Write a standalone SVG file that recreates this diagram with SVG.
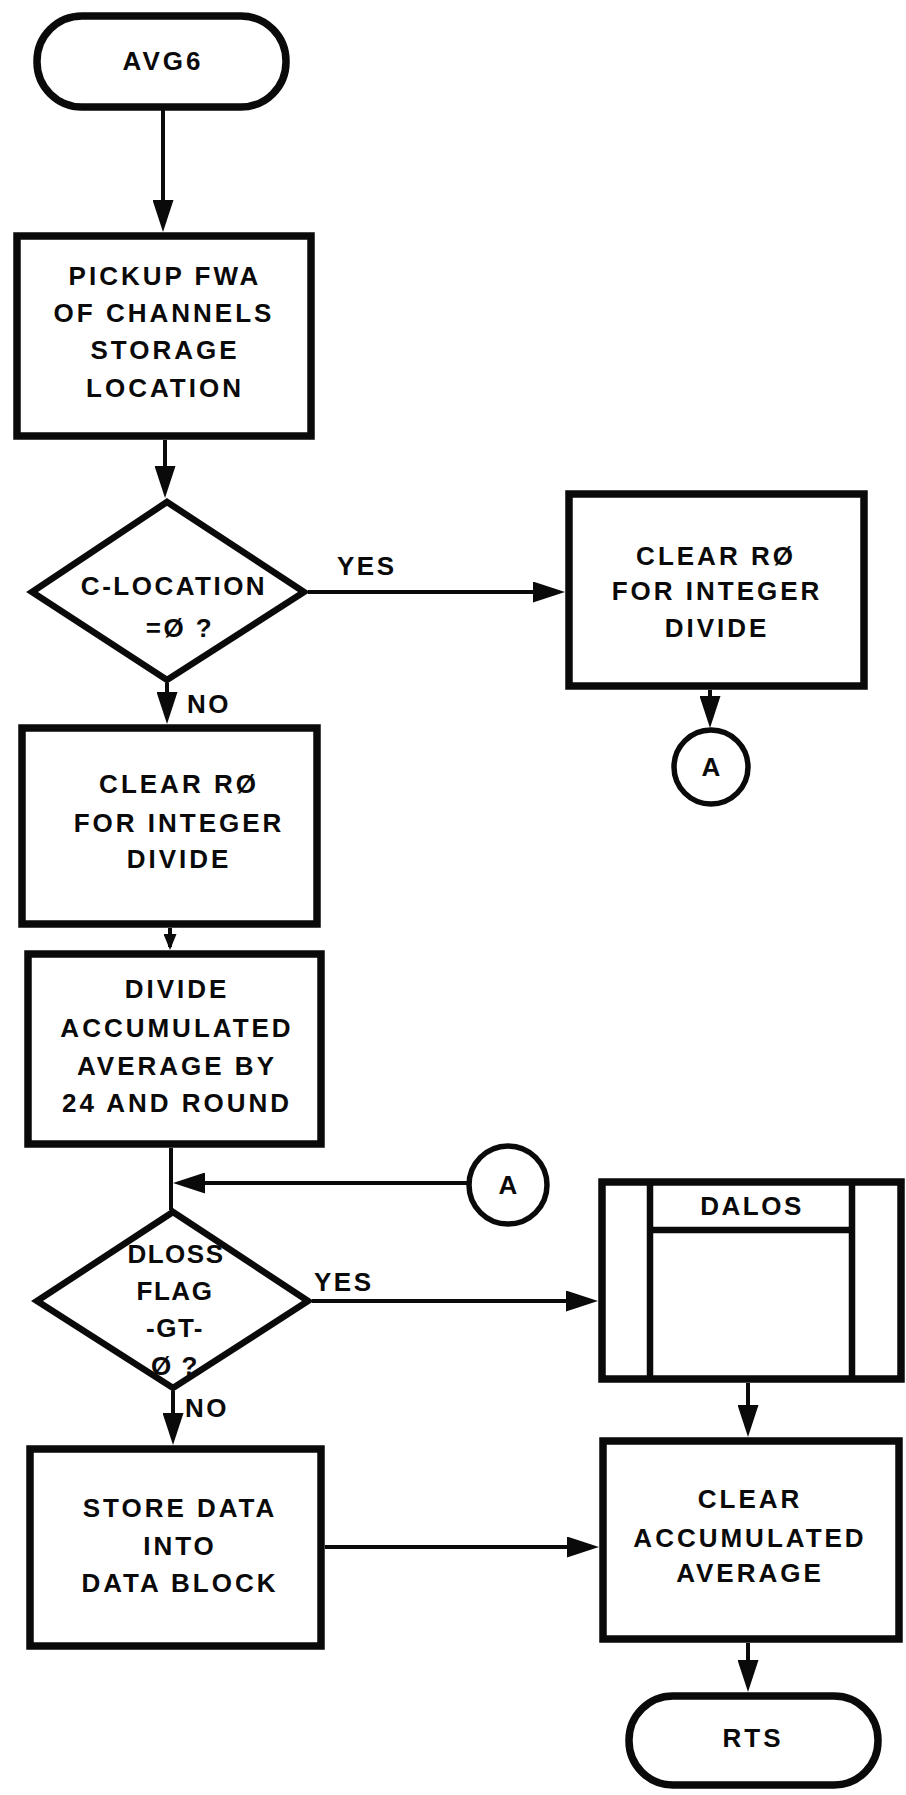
<svg xmlns="http://www.w3.org/2000/svg" width="906" height="1795" viewBox="0 0 906 1795">
<style>
.shape{fill:#fff;stroke:#0a0a0a;stroke-width:7.5;stroke-linejoin:miter}
.dia{fill:#fff;stroke:#0a0a0a;stroke-width:6.5;stroke-linejoin:miter}
.circ{fill:#fff;stroke:#0a0a0a;stroke-width:5.5}
.inner{fill:none;stroke:#0a0a0a;stroke-width:6.5}
.conn{fill:none;stroke:#0a0a0a;stroke-width:4}
text{font-family:"Liberation Sans",Arial,sans-serif;font-weight:bold;font-size:26px;fill:#0a0a0a;text-anchor:middle}
.t{letter-spacing:3px}
.d1{letter-spacing:2.5px}
.d2{letter-spacing:1.5px}
.lbl{letter-spacing:2.5px;text-anchor:start}
</style>
<defs>
<marker id="arr" markerUnits="userSpaceOnUse" markerWidth="32" markerHeight="21" refX="26" refY="10.5" orient="auto">
<path d="M0,0 L32,10.5 L0,21 Z" fill="#0a0a0a"/>
</marker>
<marker id="arrs" markerUnits="userSpaceOnUse" markerWidth="16" markerHeight="13" refX="13" refY="6.5" orient="auto">
<path d="M0,0 L16,6.5 L0,13 Z" fill="#0a0a0a"/>
</marker>
</defs>
<rect width="906" height="1795" fill="#fff"/>

<g id="connectors">
<path class="conn" d="M163,110 V226" marker-end="url(#arr)"/>
<path class="conn" d="M165,440 V492" marker-end="url(#arr)"/>
<path class="conn" d="M308,592 H559" marker-end="url(#arr)"/>
<path class="conn" d="M710,690 V722" marker-end="url(#arr)"/>
<path class="conn" d="M167,683 V718" marker-end="url(#arr)"/>
<path class="conn" d="M170,928 V947" marker-end="url(#arrs)"/>
<path class="conn" d="M171,1148 V1210"/>
<path class="conn" d="M468,1183 H179" marker-end="url(#arr)"/>
<path class="conn" d="M312,1301 H592" marker-end="url(#arr)"/>
<path class="conn" d="M173,1391 V1439" marker-end="url(#arr)"/>
<path class="conn" d="M748,1383 V1431" marker-end="url(#arr)"/>
<path class="conn" d="M325,1547 H593" marker-end="url(#arr)"/>
<path class="conn" d="M748,1643 V1686" marker-end="url(#arr)"/>
</g>

<g id="start">
<rect class="shape" x="37" y="16" width="249" height="91" rx="45"/>
<text class="t" x="163" y="70">AVG6</text>
</g>

<g id="pickup">
<rect class="shape" x="17" y="236" width="294" height="200"/>
<text class="t" x="165" y="285">PICKUP FWA</text>
<text class="t" x="164" y="322">OF CHANNELS</text>
<text class="t" x="165" y="359">STORAGE</text>
<text class="t" x="165" y="397">LOCATION</text>
</g>

<g id="decision1">
<polygon class="dia" points="167,502 304,592 167,680 32,592"/>
<text class="d1" x="174" y="595">C-LOCATION</text>
<text class="d1" x="180" y="637">=Ø ?</text>
</g>

<g id="clear-yes">
<rect class="shape" x="569" y="494" width="295" height="192"/>
<text class="t" x="716" y="565">CLEAR RØ</text>
<text class="t" x="717" y="600">FOR INTEGER</text>
<text class="t" x="717" y="637">DIVIDE</text>
</g>

<g id="connector-a-out">
<circle class="circ" cx="711" cy="767" r="37"/>
<text x="711" y="776">A</text>
</g>

<g id="clear-no">
<rect class="shape" x="22" y="728" width="295" height="196"/>
<text class="t" x="179" y="793">CLEAR RØ</text>
<text class="t" x="179" y="832">FOR INTEGER</text>
<text class="t" x="179" y="868">DIVIDE</text>
</g>

<g id="divide">
<rect class="shape" x="28" y="954" width="293" height="190"/>
<text class="t" x="177" y="998">DIVIDE</text>
<text class="t" x="177" y="1037">ACCUMULATED</text>
<text class="t" x="177" y="1075">AVERAGE BY</text>
<text class="t" x="177" y="1112">24 AND ROUND</text>
</g>

<g id="connector-a-in">
<circle class="circ" cx="508" cy="1185" r="39"/>
<text x="508" y="1194">A</text>
</g>

<g id="decision2">
<polygon class="dia" points="173,1212 308,1301 173,1388 37,1301"/>
<text class="d2" x="176" y="1263">DLOSS</text>
<text class="d2" x="175" y="1300">FLAG</text>
<text class="d2" x="175" y="1337">-GT-</text>
<text class="d2" x="175" y="1375">Ø ?</text>
</g>

<g id="dalos">
<rect class="shape" x="602" y="1182" width="299" height="197"/>
<line class="inner" x1="650" y1="1182" x2="650" y2="1379"/>
<line class="inner" x1="852" y1="1182" x2="852" y2="1379"/>
<line class="inner" x1="650" y1="1230" x2="852" y2="1230"/>
<text x="752" y="1215" style="letter-spacing:2.5px">DALOS</text>
</g>

<g id="store">
<rect class="shape" x="30" y="1449" width="291" height="197"/>
<text class="t" x="180" y="1517">STORE DATA</text>
<text class="t" x="180" y="1555">INTO</text>
<text class="t" x="180" y="1592">DATA BLOCK</text>
</g>

<g id="clear-avg">
<rect class="shape" x="603" y="1441" width="296" height="198"/>
<text class="t" x="750" y="1508">CLEAR</text>
<text class="t" x="750" y="1547">ACCUMULATED</text>
<text class="t" x="750" y="1582">AVERAGE</text>
</g>

<g id="end">
<rect class="shape" x="629" y="1696" width="249" height="89" rx="44"/>
<text class="t" x="753" y="1747">RTS</text>
</g>

<g id="labels">
<text class="lbl" x="337" y="575">YES</text>
<text class="lbl" x="187" y="713">NO</text>
<text class="lbl" x="314" y="1291">YES</text>
<text class="lbl" x="185" y="1417">NO</text>
</g>
</svg>
